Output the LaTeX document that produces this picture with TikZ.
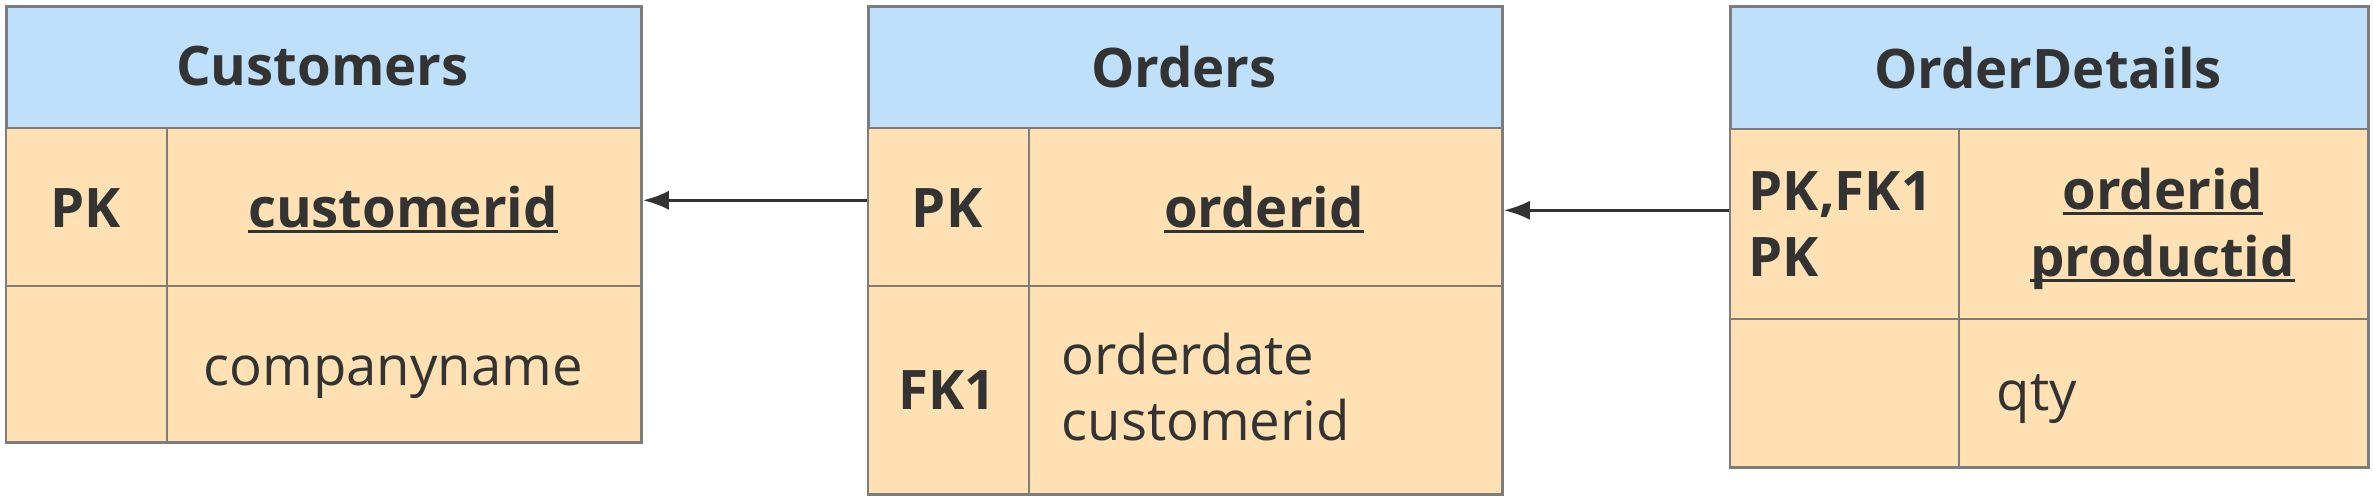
\documentclass[tikz,border=0pt]{standalone}
\usepackage{fontspec}
\setmainfont{Open Sans}
\usetikzlibrary{arrows.meta}
\definecolor{headblue}{RGB}{190,224,250}
\definecolor{bodypeach}{RGB}{255,225,180}
\definecolor{gridgray}{RGB}{125,125,125}
\definecolor{inkgray}{RGB}{51,51,51}
\newcommand{\keyline}[1]{\setbox0\hbox{#1}\rlap{\rule[-1.6pt]{\wd0}{0.85pt}}\box0}
\tikzset{
  tablehead/.style={
    draw=gridgray,
    fill=headblue,
    line width=0.8pt,
    rectangle,
    anchor=north west,
    inner sep=0pt
  },
  tablecell/.style={
    draw=gridgray,
    fill=bodypeach,
    line width=0.7pt,
    rectangle,
    anchor=north west,
    inner sep=0pt
  },
  boldtext/.style={
    font=\bfseries\fontsize{15.5}{18}\selectfont,
    text=inkgray,
    inner sep=0pt,
    anchor=base
  },
  boldleft/.style={
    boldtext,
    anchor=base west
  },
  fieldtext/.style={
    font=\fontsize{15.5}{18}\selectfont,
    text=inkgray,
    inner sep=0pt,
    anchor=base west
  },
  fk/.style={
    draw=inkgray,
    line width=0.85pt,
    -{Latex[length=2.6mm,width=1.9mm]}
  }
}

\begin{document}
\begin{tikzpicture}[x=0.01cm, y=-0.01cm]
  \useasboundingbox[fill=white] (0,0) rectangle (2373,502);

  % Customers
  \node[tablehead, minimum width=6.35cm, minimum height=1.22cm] (cust-head) at (5,5) {};
  \node[tablecell, minimum width=1.61cm, minimum height=1.58cm] (cust-key1) at (5,127) {};
  \node[tablecell, minimum width=4.74cm, minimum height=1.58cm] (cust-fld1) at (166,127) {};
  \node[tablecell, minimum width=1.61cm, minimum height=1.56cm] (cust-key2) at (5,285) {};
  \node[tablecell, minimum width=4.74cm, minimum height=1.56cm] (cust-fld2) at (166,285) {};
  \node[boldtext] (cust-title) at (322.5,85) {Customers};
  \node[boldtext] (cust-pk) at (85.5,227) {PK};
  \node[boldtext] (cust-id) at (403,227) {\keyline{customerid}};
  \node[fieldtext] (cust-name) at (203,385) {companyname};

  % Orders
  \node[tablehead, minimum width=6.34cm, minimum height=1.22cm] (ord-head) at (867,5) {};
  \node[tablecell, minimum width=1.61cm, minimum height=1.58cm] (ord-key1) at (867,127) {};
  \node[tablecell, minimum width=4.73cm, minimum height=1.58cm] (ord-fld1) at (1028,127) {};
  \node[tablecell, minimum width=1.61cm, minimum height=2.08cm] (ord-key2) at (867,285) {};
  \node[tablecell, minimum width=4.73cm, minimum height=2.08cm] (ord-fld2) at (1028,285) {};
  \node[boldtext] (ord-title) at (1184,87) {Orders};
  \node[boldtext] (ord-pk) at (947,227) {PK};
  \node[boldtext] (ord-id) at (1264,227) {\keyline{orderid}};
  \node[boldtext] (ord-fk) at (947,409) {FK1};
  \node[fieldtext] (ord-date) at (1061,374) {orderdate};
  \node[fieldtext] (ord-cust) at (1061,440) {customerid};

  % OrderDetails
  \node[tablehead, minimum width=6.38cm, minimum height=1.23cm] (det-head) at (1729,5) {};
  \node[tablecell, minimum width=2.29cm, minimum height=1.90cm] (det-key1) at (1729,128) {};
  \node[tablecell, minimum width=4.09cm, minimum height=1.90cm] (det-fld1) at (1958,128) {};
  \node[tablecell, minimum width=2.29cm, minimum height=1.48cm] (det-key2) at (1729,318) {};
  \node[tablecell, minimum width=4.09cm, minimum height=1.48cm] (det-fld2) at (1958,318) {};
  \node[boldtext] (det-title) at (2048,88) {OrderDetails};
  \node[boldleft] (det-pkfk) at (1748,210) {PK,FK1};
  \node[boldleft] (det-pk) at (1748,276.5) {PK};
  \node[boldtext] (det-ord) at (2162.5,209) {\keyline{orderid}};
  \node[boldtext] (det-prod) at (2162.5,276.5) {\keyline{productid}};
  \node[fieldtext] (det-qty) at (1996,410) {qty};

  % foreign keys
  \draw[fk] ([yshift=0.07cm]ord-key1.west) -- ([yshift=0.07cm]cust-fld1.east);
  \coordinate (det-in) at ([yshift=0.14cm]det-key1.west);
  \draw[fk] (det-in) -- (det-in -| ord-fld1.east);
\end{tikzpicture}
\end{document}
